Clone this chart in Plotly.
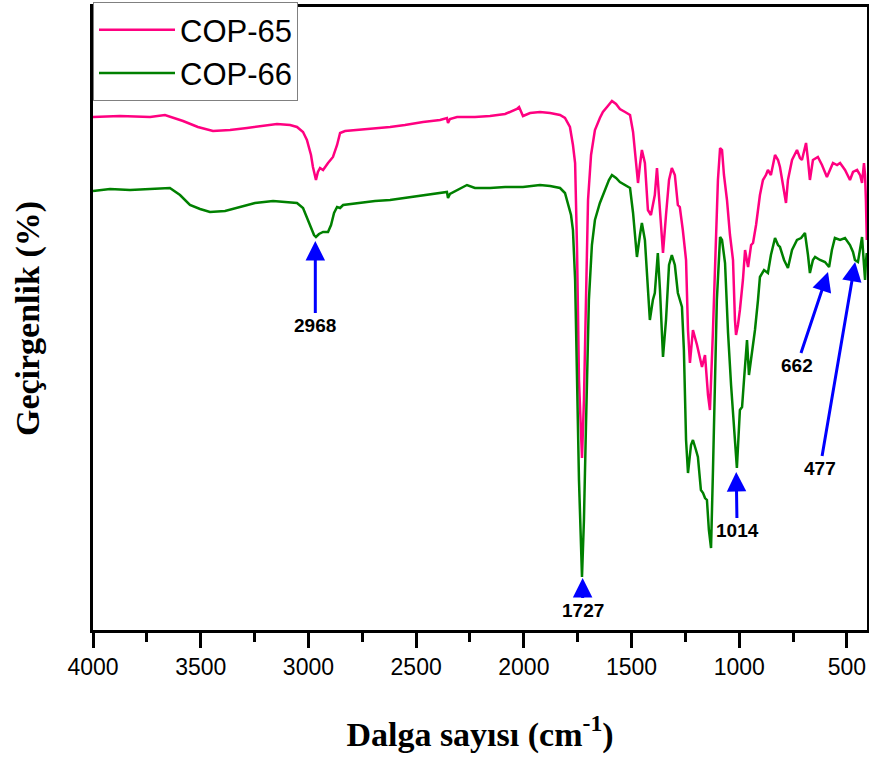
import plotly.graph_objects as go

# Wavenumbers (cm-1) and transmittance (arbitrary units)
cop65_wn = [4000, 3875, 3735, 3666, 3582, 3513, 3443, 3364, 3285, 3215, 3146, 3085, 3053, 3025, 3007, 2988,
            2979, 2965, 2956, 2946, 2932, 2909, 2886, 2867, 2853, 2830, 2774, 2691, 2621, 2552, 2468, 2389,
            2357, 2352, 2343, 2310, 2227, 2157, 2087, 2032, 2022, 2004, 1971, 1925, 1878, 1832, 1809, 1786,
            1772, 1762, 1753, 1744, 1730, 1721, 1712, 1702, 1688, 1670, 1647, 1633, 1610, 1591, 1572, 1554,
            1530, 1507, 1493, 1479, 1470, 1461, 1452, 1438, 1424, 1410, 1401, 1392, 1382, 1368, 1354, 1340,
            1326, 1313, 1299, 1285, 1276, 1262, 1252, 1247, 1238, 1229, 1215, 1196, 1173, 1159, 1145, 1136,
            1122, 1108, 1099, 1089, 1080, 1071, 1057, 1043, 1029, 1020, 1015, 1006, 997, 983, 973, 959,
            945, 936, 922, 904, 890, 876, 867, 853, 834, 820, 811, 797, 783, 774, 755, 732,
            718, 709, 690, 681, 672, 658, 635, 616, 593, 579, 565, 546, 532, 509, 486, 472,
            453, 439, 430, 421, 416, 412, 408]
cop65_t = [513, 514, 513, 515, 509, 503, 499, 500, 502, 504, 506, 505, 503, 498, 490, 475,
           463, 450, 458, 462, 460, 467, 473, 485, 497, 499, 500, 502, 503, 505, 508, 510,
           512, 507, 511, 513, 513, 514, 516, 521, 523, 514, 517, 518, 517, 515, 512, 503,
           485, 467, 380, 250, 172, 230, 330, 430, 475, 500, 512, 518, 524, 529, 526, 521,
           518, 515, 498, 465, 447, 465, 480, 467, 420, 415, 427, 435, 462, 420, 377, 415,
           450, 462, 455, 425, 423, 400, 383, 370, 300, 267, 300, 285, 263, 275, 235, 220,
           300, 390, 450, 482, 480, 455, 430, 395, 370, 310, 295, 305, 320, 350, 380, 363,
           385, 387, 405, 435, 450, 455, 460, 455, 475, 470, 463, 445, 427, 450, 470, 480,
           472, 470, 487, 470, 450, 470, 473, 465, 453, 460, 467, 465, 467, 460, 450, 458,
           460, 455, 447, 467, 455, 430, 390]

cop66_wn = [4000, 3921, 3828, 3703, 3643, 3596, 3550, 3503, 3457, 3387, 3318, 3248, 3164, 3085, 3053, 3025,
            3007, 2988, 2974, 2965, 2951, 2932, 2909, 2895, 2881, 2867, 2853, 2839, 2774, 2691, 2621, 2552,
            2468, 2389, 2357, 2352, 2343, 2264, 2227, 2157, 2087, 2004, 1925, 1878, 1832, 1809, 1795, 1781,
            1772, 1762, 1753, 1744, 1730, 1721, 1712, 1707, 1698, 1684, 1670, 1647, 1624, 1605, 1591, 1572,
            1554, 1530, 1507, 1493, 1484, 1475, 1461, 1452, 1438, 1424, 1415, 1401, 1392, 1378, 1368, 1354,
            1340, 1326, 1313, 1299, 1285, 1266, 1257, 1247, 1238, 1224, 1215, 1201, 1192, 1178, 1168, 1159,
            1150, 1141, 1131, 1122, 1113, 1104, 1089, 1080, 1066, 1052, 1038, 1024, 1011, 997, 987, 978,
            964, 955, 941, 927, 913, 904, 885, 867, 853, 834, 820, 811, 792, 774, 755, 732,
            713, 695, 681, 672, 658, 648, 625, 602, 583, 570, 556, 532, 509, 486, 472, 463,
            449, 439, 430, 421, 416, 412, 408]
cop66_t = [439, 441, 440, 441, 442, 435, 425, 421, 418, 419, 423, 427, 429, 428, 427, 422,
           413, 403, 395, 393, 396, 398, 398, 405, 417, 423, 422, 425, 427, 429, 430, 432,
           435, 437, 438, 432, 436, 445, 442, 442, 443, 443, 445, 444, 442, 437, 427, 415,
           400, 350, 250, 150, 53, 110, 200, 257, 330, 385, 410, 427, 440, 450, 455, 452,
           448, 445, 442, 417, 395, 373, 395, 407, 390, 340, 310, 330, 337, 377, 340, 273,
           310, 365, 375, 365, 337, 323, 280, 190, 157, 185, 190, 180, 173, 140, 137, 132,
           130, 100, 82, 160, 250, 330, 393, 390, 367, 297, 245, 200, 162, 220, 223, 250,
           290, 255, 277, 300, 330, 353, 360, 357, 375, 392, 385, 383, 370, 362, 380, 390,
           392, 397, 375, 357, 370, 373, 370, 368, 363, 380, 392, 390, 392, 385, 378, 370,
           368, 380, 393, 365, 350, 368, 377]

# Peak labels: text, arrow tip (wn, t), label position (wn, t)
peak_labels = ["2968", "1727", "1014", "662", "477"]
peak_tip_wn = [2968, 1727, 1014, 588, 462]
peak_tip_t = [389, 52, 158, 358, 368]
peak_lab_wn = [2968, 1727, 1010, 732, 625]
peak_lab_t = [305, 20, 100, 265, 162]

fig = go.Figure()
fig.add_trace(go.Scatter(x=cop65_wn, y=cop65_t, mode="lines", name="COP-65",
                         line=dict(color="#FF0080", width=2.5)))
fig.add_trace(go.Scatter(x=cop66_wn, y=cop66_t, mode="lines", name="COP-66",
                         line=dict(color="#008000", width=2.5)))

for txt, tx, ty, lx, ly in zip(peak_labels, peak_tip_wn, peak_tip_t, peak_lab_wn, peak_lab_t):
    fig.add_annotation(x=tx, y=ty, ax=lx, ay=ly, xref="x", yref="y", axref="x", ayref="y",
                       text="<b>%s</b>" % txt, showarrow=True, arrowhead=2, arrowsize=1.3,
                       arrowwidth=3, arrowcolor="#0000FF",
                       font=dict(family="Liberation Sans", size=19, color="black"))

fig.update_layout(
    width=869, height=760,
    margin=dict(l=93, r=2, t=7, b=130),
    paper_bgcolor="white", plot_bgcolor="white",
    showlegend=True,
    legend=dict(x=0, y=1.008, xanchor="left", yanchor="top", bgcolor="white",
                bordercolor="#808080", borderwidth=1, itemwidth=76,
                font=dict(family="Liberation Sans", size=31, color="black"),
                tracegroupgap=0),
    xaxis=dict(range=[4000, 407], tickmode="array", automargin=False,
               tickvals=[4000, 3500, 3000, 2500, 2000, 1500, 1000, 500],
               ticks="outside", ticklen=15, tickwidth=2.5, tickcolor="black",
               minor=dict(dtick=250, tick0=0, ticks="outside", ticklen=9, tickwidth=2.5, tickcolor="black"),
               showline=True, linecolor="black", linewidth=2.5, mirror=True,
               showgrid=False, zeroline=False,
               tickfont=dict(family="Liberation Sans", size=23, color="black"),
               title=dict(text="<b>Dalga sayısı (cm<sup>-1</sup>)</b>", standoff=43,
                          font=dict(family="Liberation Serif", size=34, color="black"))),
    yaxis=dict(range=[0, 623], showticklabels=False, ticks="", automargin=False,
               showline=True, linecolor="black", linewidth=2.5, mirror=True,
               showgrid=False, zeroline=False,
               title=dict(text="<b>Geçirgenlik (%)</b>", standoff=41,
                          font=dict(family="Liberation Serif", size=34, color="black"))),
)

fig.write_html("out.html", config={"displayModeBar": False},
               post_script="document.body.style.margin='0';document.body.style.padding='0';")
